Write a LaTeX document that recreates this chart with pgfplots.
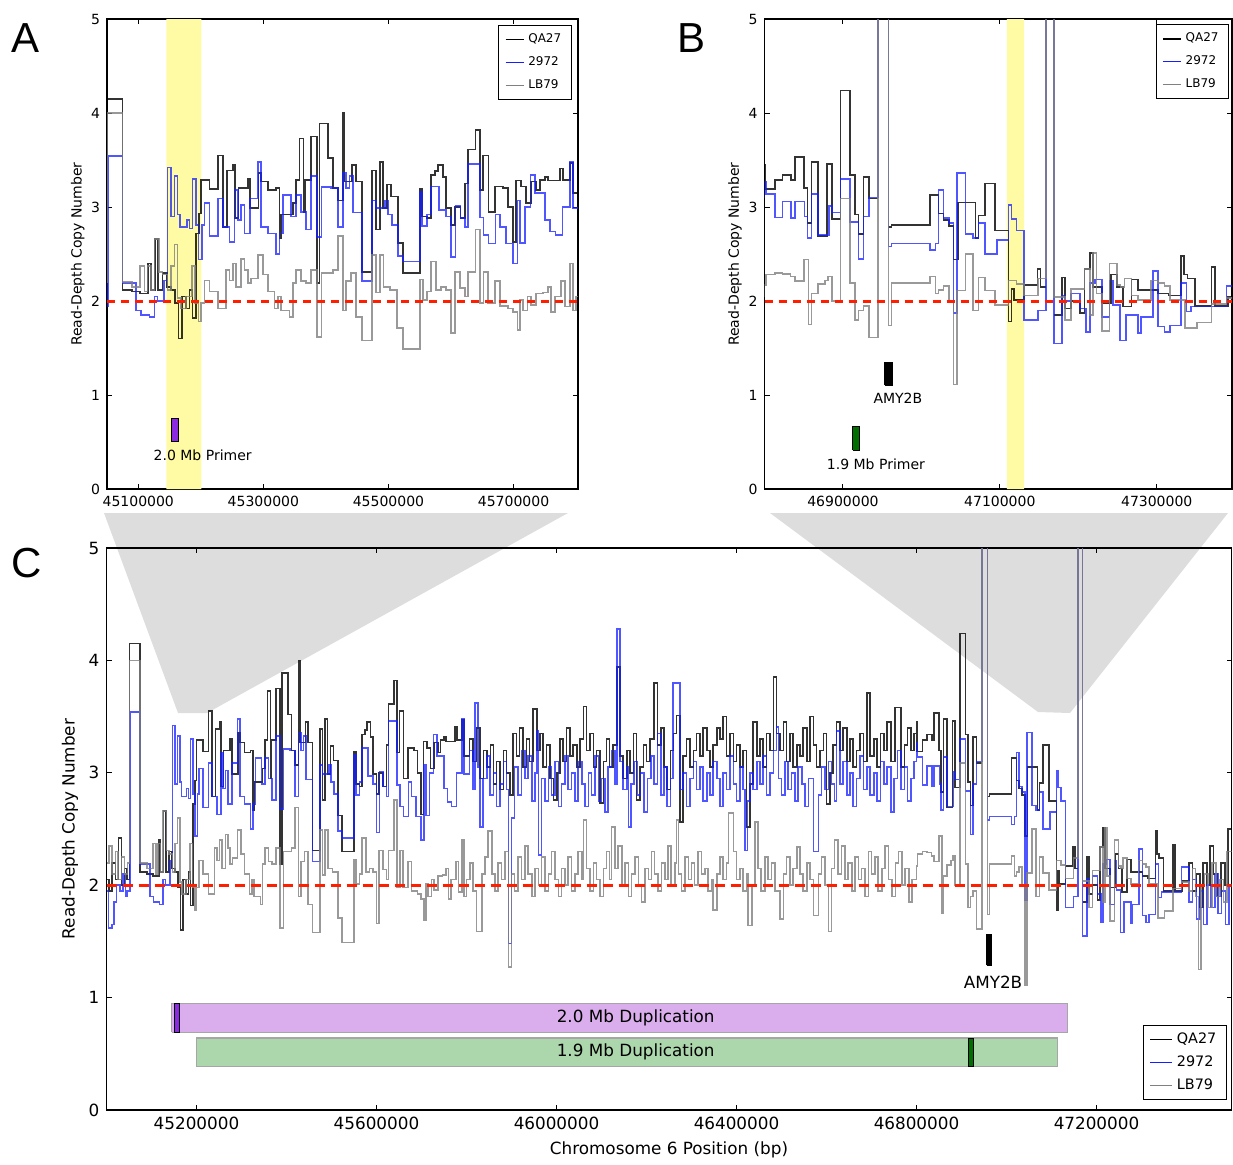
\documentclass[border=0pt]{standalone}
\usepackage{pgfplots}
\pgfplotsset{compat=1.18}
\usepackage{pgfplotstable}
\usepackage{fontspec}
\setmainfont{DejaVu Sans}
\newfontfamily\panelfont{Liberation Sans}

\definecolor{bandyellow}{RGB}{255,251,165}
\definecolor{dupviolet}{RGB}{218,174,236}
\definecolor{dupgreen}{RGB}{172,214,172}
\definecolor{primviolet}{RGB}{138,43,226}
\definecolor{primgreen}{RGB}{0,110,0}
\definecolor{zoomgray}{RGB}{221,221,221}
\definecolor{cnred}{RGB}{255,30,0}
\definecolor{qacol}{RGB}{0,0,0}
\definecolor{sbcol}{RGB}{20,30,255}
\definecolor{lbcol}{RGB}{128,128,128}

% read-depth copy number, x in kb
\pgfplotstableread{
x y
45000 2.05
45005 1.95
45012 2.20
45020 2.05
45027 2.42
45033 2.00
45040 2.15
45046 2.05
45051 4.15
45075 2.12
45090 2.10
45103 2.08
45116 2.40
45120 2.12
45127 2.66
45132 2.12
45139 2.30
45146 2.15
45152 2.12
45159 1.98
45164 1.60
45170 2.05
45176 1.92
45182 2.12
45187 1.82
45192 2.72
45197 2.93
45200 3.29
45214 3.19
45227 3.55
45235 2.79
45242 3.39
45251 3.45
45255 2.88
45260 3.20
45275 3.30
45279 2.99
45292 3.36
45296 3.27
45307 3.18
45320 3.20
45326 2.67
45328 2.92
45347 3.04
45352 3.29
45358 3.73
45364 2.95
45367 3.29
45376 3.75
45386 2.19
45390 3.89
45403 3.52
45411 3.20
45419 3.07
45427 4.00
45430 3.27
45442 3.45
45448 3.27
45458 2.31
45474 3.39
45480 2.76
45486 3.48
45491 2.99
45498 3.24
45504 3.11
45515 2.62
45523 2.30
45550 3.19
45554 2.90
45562 2.88
45568 3.34
45574 3.38
45579 3.45
45587 3.32
45592 2.99
45600 2.81
45606 3.00
45615 2.88
45622 3.25
45627 3.61
45639 3.82
45646 3.18
45651 3.55
45660 2.95
45670 3.22
45683 3.20
45691 3.00
45699 2.63
45704 3.28
45712 3.22
45720 3.04
45728 3.27
45736 3.18
45742 3.29
45750 3.32
45755 3.28
45774 3.41
45779 3.29
45790 3.47
45795 3.15
45807 3.30
45815 3.10
45822 3.40
45830 2.95
45838 3.20
45846 3.05
45853 3.25
45860 2.90
45867 3.10
45874 2.85
45882 3.20
45889 3.00
45896 2.80
45903 3.35
45911 3.15
45918 3.40
45925 3.05
45933 3.30
45940 3.10
45948 3.57
45956 3.20
45963 3.35
45970 3.05
45978 3.25
45985 2.95
45993 2.76
46001 3.00
46008 3.30
46015 3.10
46022 3.40
46030 3.15
46037 3.25
46045 3.05
46052 3.30
46060 3.59
46067 3.20
46074 3.35
46082 3.05
46089 3.20
46097 2.73
46104 3.10
46111 3.30
46118 3.05
46126 3.25
46134 3.94
46141 3.15
46148 2.95
46156 3.20
46163 3.00
46171 3.35
46178 2.76
46185 3.05
46193 3.25
46200 3.10
46208 3.30
46216 3.80
46224 3.25
46232 3.40
46239 3.05
46246 2.85
46253 3.20
46260 3.35
46267 3.51
46274 2.56
46281 3.15
46289 3.30
46296 3.05
46304 3.20
46311 3.35
46319 3.15
46326 3.40
46334 3.20
46341 3.05
46348 3.25
46356 3.40
46363 3.30
46370 3.50
46378 3.15
46385 3.35
46393 3.10
46400 3.25
46408 3.05
46415 3.20
46422 2.52
46430 2.90
46437 3.45
46445 3.15
46452 3.30
46459 3.05
46467 3.35
46474 3.20
46482 3.85
46489 3.35
46496 3.20
46504 3.45
46511 3.10
46519 3.35
46526 3.05
46534 3.25
46541 3.15
46548 3.40
46556 3.10
46563 3.50
46571 3.25
46578 3.05
46585 3.20
46593 3.35
46600 2.72
46608 3.00
46615 3.25
46622 3.45
46630 3.20
46637 3.40
46645 3.10
46652 3.30
46659 3.05
46667 3.20
46674 3.35
46682 3.10
46690 3.71
46697 3.15
46705 3.30
46712 3.05
46720 3.35
46728 3.20
46735 3.45
46743 3.10
46752 3.58
46765 3.05
46773 3.25
46780 3.40
46788 3.20
46795 3.35
46800 3.45
46801 3.19
46813 3.29
46823 3.34
46834 3.29
46839 3.53
46850 3.20
46855 2.83
46860 3.48
46868 2.69
46880 3.46
46886 2.87
46897 4.24
46909 3.34
46915 2.92
46920 2.71
46926 3.32
46933 3.09
46945 3.09
46946 nan
46958 2.79
46962 2.81
47011 3.13
47022 2.93
47028 2.86
47035 2.80
47041 2.44
47047 3.05
47069 2.67
47073 2.91
47081 3.25
47094 2.75
47111 1.78
47115 2.13
47118 2.01
47131 2.17
47148 2.34
47152 2.15
47159 2.15
47160 nan
47169 1.85
47179 2.25
47183 1.92
47191 2.00
47202 1.87
47208 2.34
47215 2.51
47219 2.15
47230 1.98
47242 2.28
47249 2.15
47257 1.94
47268 2.23
47276 2.12
47302 2.08
47315 2.06
47331 2.48
47335 2.28
47339 2.24
47349 1.95
47370 2.36
47374 1.95
47391 2.04
47405 2.20
47413 1.95
47422 2.10
47430 1.80
47436 2.20
47445 2.00
47452 2.35
47460 2.10
47468 1.90
47476 2.20
47485 2.00
47492 2.50
47500 2.50
}\qadata

\pgfplotstableread{
x y
45000 1.95
45004 1.62
45012 1.65
45016 1.85
45022 2.00
45030 1.95
45036 2.10
45042 1.90
45046 1.95
45052 3.54
45075 2.19
45096 1.90
45104 1.85
45118 1.83
45126 2.05
45131 2.00
45141 2.22
45147 3.42
45152 2.90
45158 3.33
45163 2.92
45167 2.79
45178 2.86
45182 2.77
45187 3.30
45192 2.81
45196 2.44
45202 2.81
45206 3.04
45214 2.69
45227 3.09
45235 2.79
45246 2.63
45254 3.18
45259 2.86
45264 3.02
45270 2.72
45279 3.09
45291 3.48
45296 2.79
45307 2.72
45320 2.50
45326 2.72
45331 3.13
45344 2.90
45352 3.13
45360 2.95
45368 2.76
45376 3.33
45386 2.68
45393 3.21
45408 3.20
45419 2.79
45427 3.36
45432 3.20
45438 3.33
45443 2.94
45458 2.21
45474 3.07
45480 2.99
45494 3.07
45499 2.92
45506 2.81
45515 2.48
45523 2.42
45550 3.16
45554 2.80
45562 2.92
45568 3.22
45581 2.97
45592 2.90
45600 2.47
45607 3.01
45615 2.88
45622 2.79
45627 3.46
45646 2.89
45652 2.70
45660 2.61
45671 2.92
45678 2.79
45688 2.61
45699 2.40
45706 3.07
45710 2.62
45718 3.00
45727 3.34
45734 3.15
45750 2.86
45758 2.74
45767 2.70
45778 3.00
45790 3.48
45795 2.99
45807 3.20
45815 2.85
45819 3.62
45826 3.05
45830 2.52
45837 2.95
45845 3.15
45852 2.80
45860 3.00
45867 2.70
45874 2.90
45882 3.10
45889 2.85
45893 1.48
45900 2.60
45907 3.05
45915 2.80
45922 3.20
45930 2.95
45937 3.15
45945 2.75
45952 3.00
45956 3.37
45960 2.27
45967 2.95
45974 2.75
45982 3.05
45989 2.80
45996 3.10
46004 2.70
46011 2.90
46019 3.15
46026 2.85
46033 3.00
46041 2.75
46048 3.10
46056 2.90
46063 2.70
46071 3.00
46078 2.80
46086 3.15
46093 2.75
46100 2.95
46108 2.65
46115 3.05
46122 3.20
46130 2.90
46134 4.28
46141 3.10
46148 2.85
46156 3.05
46160 2.52
46165 2.90
46172 3.10
46180 2.80
46187 3.00
46195 2.65
46202 2.95
46210 3.15
46217 2.90
46224 3.35
46232 2.80
46239 3.05
46246 2.70
46253 2.95
46259 3.80
46274 2.85
46281 3.00
46289 2.70
46296 2.95
46304 3.10
46311 2.85
46319 3.05
46326 2.75
46334 3.00
46341 2.80
46348 3.10
46356 2.95
46363 2.70
46370 3.00
46378 2.85
46385 3.15
46393 2.90
46400 2.75
46408 3.05
46415 2.85
46419 2.31
46424 2.75
46430 3.00
46437 2.85
46445 3.10
46452 2.90
46459 3.15
46467 2.80
46474 3.00
46482 3.20
46489 3.41
46493 2.95
46500 2.80
46508 3.10
46515 2.85
46522 3.00
46530 2.75
46537 3.05
46545 2.90
46552 2.70
46560 2.95
46571 2.30
46582 2.80
46589 3.05
46597 2.85
46604 3.10
46611 2.90
46618 2.75
46622 3.37
46630 2.90
46637 3.10
46645 2.80
46652 3.00
46659 2.70
46667 2.95
46674 3.15
46682 2.85
46690 3.05
46697 2.80
46705 3.00
46712 2.75
46720 3.10
46728 2.90
46735 3.05
46743 2.65
46750 2.95
46758 3.20
46765 2.85
46773 3.05
46780 2.75
46788 2.95
46795 3.10
46800 3.27
46802 3.14
46813 2.89
46823 3.06
46834 2.88
46839 3.06
46851 2.90
46855 2.67
46860 3.14
46868 2.70
46882 3.01
46886 2.94
46897 3.30
46909 2.84
46920 2.45
46926 2.90
46933 3.10
46945 8.00
46958 2.58
46962 2.61
47011 2.54
47018 2.61
47022 3.18
47028 2.88
47035 2.83
47041 1.87
47045 3.36
47056 2.71
47066 2.67
47073 2.83
47081 2.50
47096 2.65
47111 3.02
47115 2.87
47121 2.75
47131 1.80
47149 1.90
47159 8.00
47169 1.55
47179 2.06
47183 2.00
47191 2.08
47202 1.92
47210 1.67
47215 2.19
47221 2.23
47230 1.83
47240 2.22
47244 1.96
47253 1.58
47261 1.85
47276 1.66
47280 1.83
47295 2.32
47302 1.73
47310 1.67
47317 1.74
47331 2.19
47338 1.89
47344 1.94
47389 2.16
47405 1.85
47413 2.05
47422 1.70
47430 1.95
47438 1.65
47446 2.00
47455 1.80
47463 2.10
47470 1.75
47478 1.95
47487 1.65
47494 2.00
47500 2.00
}\sbdata

\pgfplotstableread{
x y
45000 2.20
45006 2.35
45012 2.10
45020 2.30
45026 2.05
45033 2.25
45040 2.10
45047 2.20
45051 4.00
45075 2.20
45090 2.15
45103 2.37
45110 2.10
45115 2.37
45120 2.12
45126 2.66
45133 2.31
45139 2.28
45147 2.12
45152 2.37
45158 2.60
45163 2.03
45168 1.92
45176 2.05
45186 2.37
45191 1.98
45196 1.78
45200 1.98
45206 2.22
45214 2.10
45227 1.92
45240 2.33
45246 2.22
45251 2.40
45256 2.15
45264 2.45
45270 2.33
45275 2.19
45280 2.24
45291 2.49
45299 2.28
45307 2.10
45318 1.92
45323 2.05
45328 1.90
45342 1.83
45347 2.19
45352 2.33
45360 2.21
45368 2.19
45376 2.33
45386 1.62
45393 2.30
45411 2.33
45419 2.69
45427 1.90
45432 2.21
45440 2.30
45448 1.83
45458 1.58
45474 2.49
45480 2.09
45486 2.49
45492 2.15
45502 2.12
45514 1.71
45523 1.49
45550 2.23
45555 2.01
45562 2.10
45568 2.42
45576 2.12
45584 2.15
45592 2.12
45600 1.66
45606 2.31
45614 2.14
45622 2.05
45627 2.31
45639 2.76
45646 1.98
45652 2.31
45659 1.98
45670 2.21
45678 1.95
45691 1.92
45699 1.88
45706 1.69
45710 2.01
45715 1.90
45722 2.05
45728 1.96
45736 2.08
45747 2.09
45755 2.15
45760 1.88
45766 2.05
45776 2.21
45782 1.94
45790 2.40
45795 1.90
45800 2.05
45808 2.20
45815 1.95
45822 1.59
45834 2.10
45841 2.25
45848 2.48
45856 2.10
45863 1.95
45870 2.20
45878 2.05
45885 2.30
45893 1.27
45900 2.10
45907 1.95
45915 2.25
45922 2.05
45930 2.35
45937 2.10
45945 1.90
45952 2.15
45960 2.00
45967 2.25
45974 1.95
45982 2.10
45989 2.30
45996 2.05
46004 1.90
46011 2.15
46019 2.00
46026 2.25
46033 1.95
46041 2.10
46048 2.30
46056 2.05
46060 2.58
46067 2.15
46074 1.95
46082 2.20
46089 2.05
46097 1.90
46104 2.15
46111 2.30
46118 2.05
46122 2.52
46130 2.15
46137 2.35
46145 2.00
46152 2.20
46160 1.90
46167 2.10
46174 2.25
46182 2.00
46189 1.85
46196 2.15
46204 2.05
46211 2.30
46218 2.10
46226 1.95
46233 2.20
46241 2.05
46248 2.35
46255 2.00
46263 2.20
46267 2.58
46271 2.10
46278 1.95
46285 2.25
46293 2.05
46300 2.20
46307 2.00
46315 2.30
46322 2.10
46330 2.15
46337 1.95
46344 2.05
46348 1.78
46356 2.10
46363 2.25
46370 2.05
46378 2.20
46382 2.64
46393 2.30
46400 2.05
46408 2.15
46415 1.95
46422 2.10
46426 1.64
46434 2.00
46441 2.56
46448 2.15
46455 1.95
46463 2.25
46470 2.05
46478 2.20
46485 1.95
46496 1.70
46504 2.10
46511 2.25
46519 2.00
46526 2.15
46534 2.34
46541 2.10
46548 1.95
46556 2.20
46563 2.05
46571 1.73
46582 2.10
46589 2.25
46597 2.00
46604 1.59
46611 2.15
46618 2.40
46626 2.10
46633 2.35
46641 2.05
46648 2.20
46656 1.95
46663 2.25
46671 2.05
46678 2.15
46685 1.90
46693 2.30
46700 2.10
46708 2.25
46715 1.95
46723 2.15
46730 2.35
46738 2.05
46745 1.90
46753 2.20
46760 2.30
46768 2.00
46775 2.15
46783 1.85
46790 2.05
46800 2.17
46802 2.28
46813 2.30
46823 2.29
46833 2.26
46839 2.21
46850 2.44
46856 1.75
46860 2.08
46868 2.18
46877 2.22
46881 2.26
46886 2.00
46897 3.09
46909 2.19
46915 1.80
46920 1.90
46926 1.95
46933 1.61
46945 8.00
46958 1.74
46962 2.19
47011 2.26
47018 2.08
47022 2.12
47028 2.16
47035 2.00
47041 1.11
47045 2.11
47056 2.50
47066 1.90
47073 2.25
47081 2.11
47094 1.96
47111 2.22
47121 2.18
47131 2.06
47149 2.24
47159 8.00
47169 2.04
47183 1.80
47191 2.13
47208 2.34
47215 1.85
47219 2.51
47223 2.08
47230 1.68
47240 2.40
47249 2.17
47254 2.15
47259 2.24
47268 2.06
47276 2.01
47293 2.22
47302 2.19
47310 2.16
47317 2.01
47336 1.71
47351 1.77
47370 1.97
47389 2.03
47405 1.95
47413 2.15
47420 1.90
47427 1.25
47432 2.00
47440 2.10
47448 1.80
47456 2.20
47465 1.90
47474 2.05
47482 1.85
47490 2.30
47500 2.30
}\lbdata

\pgfplotsset{
  cnbase/.style={
    scale only axis, ymin=0, ymax=5,
    scaled x ticks=false, scaled y ticks=false,
    ytick={0,1,2,3,4,5}, yticklabels={0,1,2,3,4,5},
    tick align=inside, xtick pos=both, ytick pos=both,
    major tick length=2.5pt,
    axis line style={line width=0.6pt},
    tick style={black, line width=0.5pt},
    unbounded coords=jump,
    legend cell align=left,
    legend image code/.code={\draw[#1] (0pt,0pt) -- (9pt,0pt);},
  },
  qa/.style={const plot, draw=qacol, draw opacity=0.8, line width=0.8pt, forget plot},
  sb/.style={const plot, draw=sbcol, draw opacity=0.75, line width=0.8pt, forget plot},
  lb/.style={const plot, draw=lbcol, draw opacity=0.8, line width=0.8pt, forget plot},
  box/.style={draw=black, line width=0.5pt, forget plot},
}
\newcommand{\cnlegend}{%
  \addlegendimage{draw=qacol, line width=0.8pt}\addlegendentry{QA27}
  \addlegendimage{draw=sbcol, line width=0.8pt}\addlegendentry{2972}
  \addlegendimage{draw=lbcol, line width=0.8pt}\addlegendentry{LB79}}

\begin{document}
\begin{tikzpicture}
\useasboundingbox (0,0) rectangle (616.5pt,-582pt);

% zoom wedges
\fill[zoomgray] (52pt,-256.5pt) -- (284pt,-256.5pt) -- (103.5pt,-356.5pt) -- (89pt,-356.5pt) -- cycle;
\fill[zoomgray] (385pt,-256.5pt) -- (614pt,-256.5pt) -- (535pt,-356.5pt) -- (519pt,-356pt) -- cycle;

% panel C
\begin{axis}[cnbase, at={(53.25pt,-555pt)}, anchor=south west,
  width=562.5pt, height=281pt,
  xmin=45000, xmax=47500,
  xtick={45200,45600,46000,46400,46800,47200},
  xticklabels={45200000,45600000,46000000,46400000,46800000,47200000},
  ticklabel style={font=\fontsize{8.4}{10}\selectfont},
  xlabel={Chromosome 6 Position (bp)},
  xlabel style={at={(axis description cs:0.5,-0.071)}, anchor=center, font=\fontsize{8.4}{10}\selectfont},
  ylabel={Read-Depth Copy Number},
  ylabel style={at={(axis description cs:-0.0324,0.5)}, anchor=center, font=\fontsize{8.4}{10}\selectfont},
  legend style={at={(axis description cs:0.996,0.018)}, anchor=south east, draw=black, line width=0.6pt,
    font=\fontsize{7.2}{8.6}\selectfont, inner xsep=3pt, inner ysep=1.5pt, row sep=0.6pt},
  legend image code/.code={\draw[#1] (0pt,0pt) -- (11pt,0pt);},
]
\cnlegend
\addplot[qa] table {\qadata};
\addplot[sb] table {\sbdata};
\addplot[lb] table {\lbdata};
\addplot[cnred, line width=1.5pt, dash pattern=on 5pt off 3pt, forget plot] coordinates {(45000,2) (47500,2)};
\addplot[forget plot, fill=dupviolet, draw=gray!70, line width=0.6pt] coordinates {(45145,0.69) (45145,0.95) (47136,0.95) (47136,0.69) (45145,0.69)};
\addplot[forget plot, fill=dupgreen, draw=gray!70, line width=0.6pt] coordinates {(45200,0.385) (45200,0.64) (47113,0.64) (47113,0.385) (45200,0.385)};
\addplot[box, fill=primviolet] coordinates {(45151,0.69) (45151,0.95) (45162,0.95) (45162,0.69) (45151,0.69)};
\addplot[box, fill=primgreen] coordinates {(46916,0.385) (46916,0.64) (46927,0.64) (46927,0.385) (46916,0.385)};
\addplot[box, fill=black] coordinates {(46956,1.29) (46956,1.56) (46967,1.56) (46967,1.29) (46956,1.29)};
\node[font=\fontsize{8.4}{10}\selectfont] at (axis cs:46176,0.82) {2.0 Mb Duplication};
\node[font=\fontsize{8.4}{10}\selectfont] at (axis cs:46176,0.52) {1.9 Mb Duplication};
\node[font=\fontsize{8.4}{10}\selectfont] at (axis cs:46970,1.14) {AMY2B};
\end{axis}

% panel A
\begin{axis}[cnbase, at={(53.5pt,-244.5pt)}, anchor=south west,
  width=235.5pt, height=235pt,
  xmin=45050, xmax=45803,
  xtick={45100,45300,45500,45700},
  xticklabels={45100000,45300000,45500000,45700000},
  ticklabel style={font=\fontsize{7}{8}\selectfont},
  ylabel={Read-Depth Copy Number},
  ylabel style={at={(axis description cs:-0.062,0.5)}, anchor=center, font=\fontsize{7}{8}\selectfont},
  legend style={at={(axis description cs:0.987,0.987)}, anchor=north east, draw=black, line width=0.6pt,
    font=\fontsize{6}{7}\selectfont, inner xsep=3pt, inner ysep=2pt, row sep=1.5pt},
]
\cnlegend
\addplot[fill=bandyellow, draw=none, forget plot] coordinates {(45145,0) (45145,5) (45201,5) (45201,0) (45145,0)};
\addplot[qa] table {\qadata};
\addplot[sb] table {\sbdata};
\addplot[lb] table {\lbdata};
\addplot[cnred, line width=1.5pt, dash pattern=on 4pt off 3pt, forget plot] coordinates {(45050,2) (45803,2)};
\addplot[box, fill=primviolet] coordinates {(45153.5,0.503) (45153.5,0.752) (45164.7,0.752) (45164.7,0.503) (45153.5,0.503)};
\node[font=\fontsize{7}{8}\selectfont] at (axis cs:45203,0.36) {2.0 Mb Primer};
\end{axis}

% panel B
\begin{axis}[cnbase, at={(382.25pt,-244.5pt)}, anchor=south west,
  width=233.75pt, height=235pt,
  xmin=46800, xmax=47396,
  xtick={46900,47100,47300},
  xticklabels={46900000,47100000,47300000},
  ticklabel style={font=\fontsize{7}{8}\selectfont},
  ylabel={Read-Depth Copy Number},
  ylabel style={at={(axis description cs:-0.063,0.5)}, anchor=center, font=\fontsize{7}{8}\selectfont},
  legend style={at={(axis description cs:0.994,0.989)}, anchor=north east, draw=black, line width=0.6pt,
    font=\fontsize{6}{7}\selectfont, inner xsep=3pt, inner ysep=2pt, row sep=1.5pt},
]
\cnlegend
\addplot[fill=bandyellow, draw=none, forget plot] coordinates {(47109,0) (47109,5) (47131,5) (47131,0) (47109,0)};
\addplot[qa] table {\qadata};
\addplot[sb] table {\sbdata};
\addplot[lb] table {\lbdata};
\addplot[cnred, line width=1.5pt, dash pattern=on 4pt off 3pt, forget plot] coordinates {(46800,2) (47396,2)};
\addplot[box, fill=black] coordinates {(46953.5,1.106) (46953.5,1.35) (46963.7,1.35) (46963.7,1.106) (46953.5,1.106)};
\addplot[box, fill=primgreen] coordinates {(46912.7,0.415) (46912.7,0.66) (46921.6,0.66) (46921.6,0.415) (46912.7,0.415)};
\node[font=\fontsize{7}{8}\selectfont] at (axis cs:46970,0.97) {AMY2B};
\node[font=\fontsize{7}{8}\selectfont] at (axis cs:46942,0.266) {1.9 Mb Primer};
\end{axis}

\node[font=\panelfont\fontsize{21}{24}\selectfont] at (13pt,-19pt) {A};
\node[font=\panelfont\fontsize{21}{24}\selectfont] at (346pt,-19pt) {B};
\node[font=\panelfont\fontsize{21}{24}\selectfont] at (13.5pt,-281.5pt) {C};
\end{tikzpicture}
\end{document}
